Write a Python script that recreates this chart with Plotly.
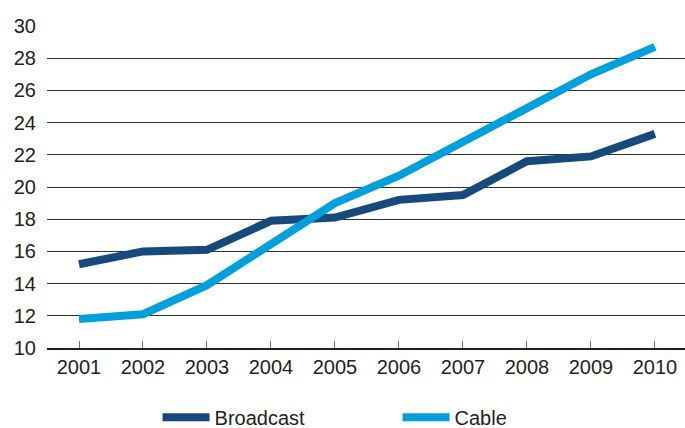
import plotly.graph_objects as go

years = ["2001", "2002", "2003", "2004", "2005", "2006", "2007", "2008", "2009", "2010"]
broadcast = [15.2, 16.0, 16.1, 17.9, 18.1, 19.2, 19.5, 21.6, 21.9, 23.3]
cable = [11.8, 12.1, 13.9, 16.4, 19.0, 20.7, 22.8, 24.9, 27.0, 28.7]
y_ticks = [10, 12, 14, 16, 18, 20, 22, 24, 26, 28, 30]

font_family = "Liberation Sans, Arial, sans-serif"
text_color = "#231f20"

fig = go.Figure()
fig.add_trace(go.Scatter(
    x=years, y=broadcast, name="Broadcast", mode="lines",
    line=dict(color="#174a7c", width=8),
))
fig.add_trace(go.Scatter(
    x=years, y=cable, name="Cable", mode="lines",
    line=dict(color="#00a0dd", width=8),
))

fig.update_layout(
    width=685, height=428,
    margin=dict(l=47, r=0, t=26, b=80),
    paper_bgcolor="white", plot_bgcolor="white",
    font=dict(family=font_family, size=20, color=text_color),
    showlegend=True,
    legend=dict(
        orientation="h", xref="container", yref="container",
        x=0.23, xanchor="left", y=0.025, yanchor="middle",
        font=dict(size=20, color=text_color), entrywidth=178, itemwidth=47,
        bgcolor="rgba(0,0,0,0)",
    ),
)
fig.update_xaxes(
    type="category", range=[-0.5, 9.47],
    showgrid=False, showline=True, linecolor="#231f20", linewidth=2,
    ticks="inside", ticklen=7, tickcolor="#6d6e71", tickwidth=1,
    tickfont=dict(size=20, color=text_color),
)
fig.update_yaxes(
    range=[10, 30], tickvals=y_ticks, showgrid=True, gridcolor="#2e2e2e", gridwidth=1,
    zeroline=False, showline=False, ticks="", ticklabelstandoff=10,
    tickfont=dict(size=20, color=text_color),
)

fig.write_html("out.html")
